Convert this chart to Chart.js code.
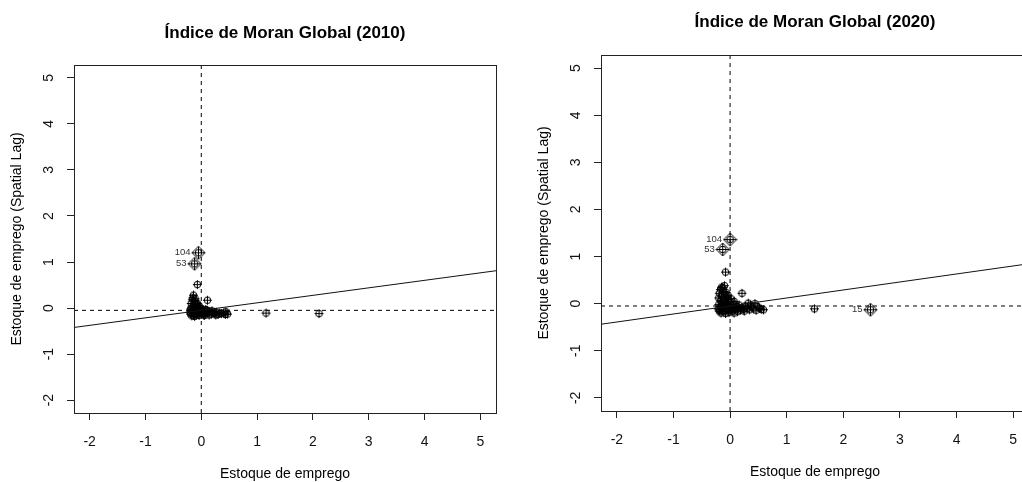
<!DOCTYPE html>
<html>
<head>
<meta charset="utf-8">
<script src="https://cdn.jsdelivr.net/npm/chart.js@4.4.0/dist/chart.umd.min.js"></script>
<style>
html, body { margin: 0; padding: 0; background: #fff; width: 1022px; height: 482px; overflow: hidden; position: relative; }
canvas { position: absolute; top: 0; }
#c2010 { left: 0; }
#c2020 { left: 511px; }
</style>
</head>
<body>
<canvas id="c2010" width="511" height="482"></canvas>
<canvas id="c2020" width="530" height="482"></canvas>
<script>
// axis limits and ticks (same for both panels)
const axisLim = [-2.28, 5.28];
const xTicks = [-2, -1, 0, 1, 2, 3, 4, 5];
const yTicks = [-2, -1, 0, 1, 2, 3, 4, 5];

// 2010: standardised value vs spatial lag
const x2010 = [-0.14, -0.07, 0.11, 1.16, 2.11, 0.47, 0.44, 0.40, -0.16, -0.12,
  -0.18, -0.10, -0.14, -0.17, -0.08, -0.12, -0.15, -0.18, -0.10, -0.06,
  -0.13, -0.16, -0.19, -0.11, -0.08, -0.05, -0.14, -0.17, -0.09, -0.06,
  -0.03, -0.01, 0.02, -0.12, -0.04, 0.00, 0.03, 0.05, 0.07, 0.09,
  0.04, 0.12, 0.15, 0.18, 0.21, 0.24, 0.27, 0.30, 0.33, 0.36,
  0.14, 0.08, -0.02, -0.07, -0.15, -0.11, -0.04, 0.01, -0.19, -0.20,
  0.06, 0.11, 0.19, 0.26, 0.43];
const lag2010 = [0.28, 0.51, 0.17, -0.11, -0.12, -0.13, -0.08, -0.11, 0.18, 0.14,
  0.10, 0.08, 0.05, 0.02, 0.03, -0.01, -0.04, -0.06, -0.05, -0.02,
  -0.08, -0.10, -0.13, -0.12, -0.09, -0.06, -0.15, -0.17, -0.15, -0.13,
  -0.10, -0.07, -0.05, -0.18, -0.16, -0.13, -0.10, -0.07, -0.12, -0.09,
  -0.15, -0.11, -0.08, -0.13, -0.10, -0.12, -0.09, -0.14, -0.11, -0.12,
  -0.15, -0.03, 0.00, 0.10, 0.22, 0.20, 0.05, -0.02, -0.02, -0.09,
  -0.16, -0.05, -0.06, -0.15, -0.14];
const infLabels2010 = ['104', '53'];
const infX2010 = [-0.05, -0.12];
const infLag2010 = [1.20, 0.96];
const meanX2010 = 0;
const meanLag2010 = -0.05;
const slope2010 = 0.163;

// 2020
const x2020 = [-0.08, -0.15, 0.21, 1.49, 0.32, 0.44, 0.59, 0.52, -0.17, -0.12,
  -0.19, -0.09, -0.15, -0.20, -0.06, -0.11, -0.17, -0.03, -0.08, -0.14,
  -0.20, 0.00, -0.05, -0.11, -0.17, -0.21, 0.03, -0.02, -0.08, -0.14,
  -0.19, 0.06, 0.01, -0.05, -0.11, -0.16, 0.09, 0.04, -0.02, -0.08,
  0.12, 0.15, 0.18, 0.21, 0.24, 0.27, 0.30, 0.34, 0.38, 0.41,
  0.46, 0.13, 0.07, -0.13, -0.10, 0.10, 0.02, -0.04, 0.07, 0.16,
  0.25, 0.36, 0.49, 0.55, -0.18, -0.13, -0.07];
const lag2020 = [0.67, 0.35, 0.22, -0.11, 0.01, 0.00, -0.13, -0.10, 0.30, 0.26,
  0.22, 0.20, 0.16, 0.12, 0.14, 0.10, 0.06, 0.08, 0.04, 0.01,
  -0.02, 0.03, -0.01, -0.04, -0.07, -0.11, -0.03, -0.06, -0.09, -0.12,
  -0.16, -0.08, -0.11, -0.14, -0.17, -0.20, -0.12, -0.16, -0.19, -0.21,
  -0.06, -0.10, -0.14, -0.08, -0.12, -0.05, -0.10, -0.13, -0.07, -0.11,
  -0.14, -0.17, -0.20, 0.34, 0.38, -0.02, 0.10, 0.18, 0.05, -0.03,
  -0.16, -0.03, -0.07, -0.12, -0.13, -0.02, 0.24];
const infLabels2020 = ['104', '53', '15'];
const infX2020 = [0.00, -0.13, 2.48];
const infLag2020 = [1.36, 1.15, -0.13];
const meanX2020 = 0;
const meanLag2020 = -0.05;
const slope2020 = 0.17;

const FONT = '"Liberation Sans", Arial, Helvetica, sans-serif';

// R-like point symbols
function makeSymbol(big) {
  const s = big ? 15 : 11;
  const c = document.createElement('canvas');
  c.width = s; c.height = s;
  const g = c.getContext('2d');
  const m = s / 2;
  g.strokeStyle = '#000';
  g.lineWidth = 1;
  g.beginPath();
  g.arc(m, m, 3.3, 0, Math.PI * 2);
  g.stroke();
  const r = big ? 6.5 : 4.5;
  g.beginPath();
  g.moveTo(m - r, m); g.lineTo(m + r, m);
  g.moveTo(m, m - r); g.lineTo(m, m + r);
  g.stroke();
  if (big) {
    g.beginPath();
    g.moveTo(m, m - r); g.lineTo(m + r, m); g.lineTo(m, m + r); g.lineTo(m - r, m); g.closePath();
    g.stroke();
  }
  return c;
}
const symSmall = makeSymbol(false);
const symBig = makeSymbol(true);

const decor = {
  id: 'decor',
  afterDraw(chart, args, o) {
    const { ctx, chartArea: a } = chart;
    ctx.save();
    ctx.strokeStyle = '#222';
    ctx.lineWidth = 1;
    ctx.strokeRect(Math.round(a.left) + 0.5, Math.round(a.top) + 0.5,
      Math.round(a.right - a.left), Math.round(a.bottom - a.top));

    ctx.fillStyle = '#000';
    ctx.textAlign = 'center';
    ctx.textBaseline = 'middle';
    ctx.font = 'bold 17px ' + FONT;
    ctx.fillText(o.title, (a.left + a.right) / 2, o.titleY);
    ctx.font = '14px ' + FONT;
    ctx.fillText(o.xTitle, (a.left + a.right) / 2, o.xTitleY);
    ctx.save();
    ctx.translate(o.yTitleX, (a.top + a.bottom) / 2);
    ctx.rotate(-Math.PI / 2);
    ctx.fillText(o.yTitle, 0, 0);
    ctx.restore();

    // labels of influential points
    const meta = chart.getDatasetMeta(1);
    ctx.font = '9.5px ' + FONT;
    ctx.fillStyle = '#333';
    ctx.textAlign = 'right';
    meta.data.forEach((pt, i) => {
      ctx.fillText(o.labels[i], pt.x - 8, pt.y);
    });
    ctx.restore();
  }
};

function scale(ticks, pos, size, pad) {
  return {
    type: 'linear',
    position: pos,
    min: axisLim[0],
    max: axisLim[1],
    afterBuildTicks: s => { s.ticks = ticks.map(v => ({ value: v })); },
    afterFit: s => { if (pos === 'bottom') s.height = size; else s.width = size; },
    grid: { display: true, drawOnChartArea: false, drawTicks: true, tickLength: 7, color: '#222', tickColor: '#222', lineWidth: 1 },
    border: { display: false },
    ticks: {
      color: '#111',
      font: { family: FONT, size: 14 },
      padding: pad,
      minRotation: pos === 'left' ? 90 : 0,
      maxRotation: pos === 'left' ? 90 : 0,
      crossAlign: 'center',
      autoSkip: false,
      callback: v => String(v)
    }
  };
}

function moranChart(id, xs, lags, infX, infLag, infLabels, meanX, meanLag, slope, lay) {
  const pts = xs.map((v, i) => ({ x: v, y: lags[i] }));
  const inf = infX.map((v, i) => ({ x: v, y: infLag[i] }));
  const fit = axisLim.map(v => ({ x: v, y: meanLag + slope * (v - meanX) }));
  new Chart(document.getElementById(id), {
    data: {
      datasets: [
        { type: 'scatter', data: pts, pointStyle: symSmall, pointRadius: 5, order: 1 },
        { type: 'scatter', data: inf, pointStyle: symBig, pointRadius: 7, order: 0 },
        { type: 'line', data: fit, borderColor: '#111', borderWidth: 1, pointRadius: 0, fill: false },
        { type: 'line', data: axisLim.map(v => ({ x: meanX, y: v })), borderColor: '#000', borderWidth: 1, borderDash: [4, 4], pointRadius: 0, fill: false },
        { type: 'line', data: axisLim.map(v => ({ x: v, y: meanLag })), borderColor: '#000', borderWidth: 1, borderDash: [4, 4], pointRadius: 0, fill: false }
      ]
    },
    options: {
      responsive: false,
      animation: false,
      devicePixelRatio: 1,
      layout: { padding: { left: 0, top: lay.top, right: lay.right, bottom: 0 } },
      plugins: {
        legend: { display: false },
        tooltip: { enabled: false },
        decor: lay.text
      },
      scales: {
        x: scale(xTicks, 'bottom', lay.xh, 22),
        y: scale(yTicks, 'left', lay.yw, 12)
      }
    },
    plugins: [decor]
  });
}

moranChart('c2010', x2010, lag2010, infX2010, infLag2010, infLabels2010, meanX2010, meanLag2010, slope2010, {
  top: 65, right: 15, xh: 69, yw: 74,
  text: { title: 'Índice de Moran Global (2010)', titleY: 33, xTitle: 'Estoque de emprego', xTitleY: 474,
    yTitle: 'Estoque de emprego (Spatial Lag)', yTitleX: 17, labels: infLabels2010 }
});

moranChart('c2020', x2020, lag2020, infX2020, infLag2020, infLabels2020, meanX2020, meanLag2020, slope2020, {
  top: 55, right: 12, xh: 71, yw: 90,
  text: { title: 'Índice de Moran Global (2020)', titleY: 22, xTitle: 'Estoque de emprego', xTitleY: 472,
    yTitle: 'Estoque de emprego (Spatial Lag)', yTitleX: 33, labels: infLabels2020 }
});
</script>
</body>
</html>
